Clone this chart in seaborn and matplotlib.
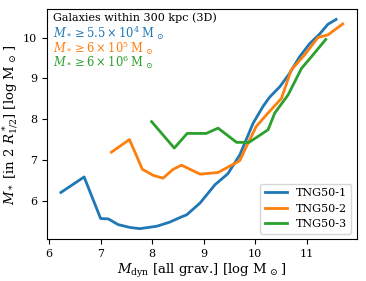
import pandas as pd
import numpy as np
import seaborn as sns
import matplotlib.pyplot as plt

plt.rcParams['font.family'] = 'DejaVu Serif'
plt.rcParams['mathtext.fontset'] = 'dejavuserif'

# log M_dyn vs log M_star
tng1_x = [6.23, 6.68, 7.00, 7.15, 7.34, 7.57, 7.76, 8.09, 8.34, 8.57, 8.67, 8.93, 9.22, 9.47,
          9.70, 9.96, 10.15, 10.28, 10.48, 10.67, 10.86, 11.06, 11.25, 11.41, 11.57]
tng1_y = [6.20, 6.58, 5.56, 5.55, 5.41, 5.34, 5.31, 5.37, 5.47, 5.60, 5.65, 5.94, 6.39, 6.66,
          7.12, 7.90, 8.31, 8.54, 8.80, 9.13, 9.53, 9.86, 10.09, 10.33, 10.45]

tng2_x = [7.21, 7.56, 7.81, 8.02, 8.21, 8.41, 8.57, 8.93, 9.28, 9.47, 9.70, 9.80, 10.02, 10.22,
          10.51, 10.70, 10.96, 11.22, 11.41, 11.70]
tng2_y = [7.19, 7.50, 6.77, 6.62, 6.55, 6.77, 6.87, 6.65, 6.69, 6.82, 6.98, 7.25, 7.82, 8.11,
          8.51, 9.21, 9.58, 10.01, 10.07, 10.34]

tng3_x = [7.99, 8.43, 8.68, 9.05, 9.28, 9.64, 9.88, 10.25, 10.38, 10.64, 10.90, 11.09, 11.37]
tng3_y = [7.94, 7.29, 7.65, 7.65, 7.78, 7.43, 7.43, 7.74, 8.15, 8.60, 9.25, 9.53, 9.96]

sims = ['TNG50-1', 'TNG50-2', 'TNG50-3']
colors = ['#1f77b4', '#ff7f0e', '#2ca02c']
mass_cuts = [r'$M_*\geq5.5\times10^4\;\mathrm{M}_{\,\odot}$',
             r'$M_*\geq6\times10^5\;\mathrm{M}_{\,\odot}$',
             r'$M_*\geq6\times10^6\;\mathrm{M}_{\,\odot}$']

df = pd.concat([
    pd.DataFrame({'mdyn': tng1_x, 'mstar': tng1_y, 'sim': sims[0]}),
    pd.DataFrame({'mdyn': tng2_x, 'mstar': tng2_y, 'sim': sims[1]}),
    pd.DataFrame({'mdyn': tng3_x, 'mstar': tng3_y, 'sim': sims[2]}),
], ignore_index=True)

fig = plt.figure(figsize=(3.66, 2.81), dpi=100)
ax = fig.add_axes([0.128, 0.149, 0.847, 0.819])
sns.lineplot(data=df, x='mdyn', y='mstar', hue='sim', palette=colors, sort=False,
             estimator=None, linewidth=2, ax=ax)

ax.set_xlabel(r'$M_{\rm dyn}$ [all grav.] [log M$_{\,\odot}\,$]', fontsize=9.5, labelpad=2)
ax.set_ylabel(r'$M_*$ [in 2 $R^*_{1/2}$] [log M$_{\,\odot}\,$]', fontsize=9.5, labelpad=2)
ax.tick_params(labelsize=8)

ax.text(0.019, 0.961, 'Galaxies within 300 kpc (3D)', transform=ax.transAxes,
        fontsize=8, va='center')
for i, t in enumerate(mass_cuts):
    ax.text(0.019, 0.896 - i * 0.064, t, transform=ax.transAxes, fontsize=8.3,
            va='center', color=colors[i])

ax.legend(loc='lower right', fontsize=8, title=None)
fig.savefig('out.png', dpi=100)
